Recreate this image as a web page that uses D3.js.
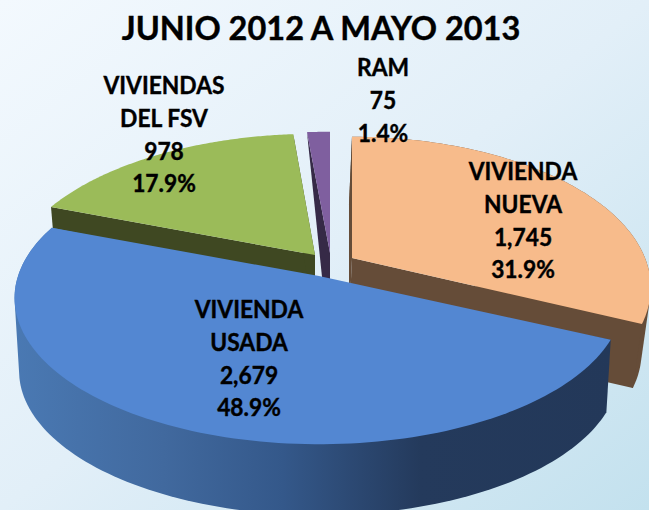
<!DOCTYPE html>
<html><head><meta charset="utf-8">
<script src="https://d3js.org/d3.v7.min.js"></script>
<style>html,body{margin:0;padding:0;background:#fff}svg{display:block}</style></head>
<body><svg id="c" width="649" height="510"></svg>
<script>
const titleText = "JUNIO 2012 A MAYO 2013";
const categories = ["VIVIENDA NUEVA","VIVIENDA USADA","VIVIENDAS DEL FSV","RAM"];
const values = [1745,2679,978,75];
const labelLines = [["VIVIENDA","NUEVA"],["VIVIENDA","USADA"],["VIVIENDAS","DEL FSV"],["RAM"]];
const topColors = ["#F7BB8B","#5387D2","#9BBB59","#7F5F9F"];
const wallColors = ["#654C38",null,"#3F4822","#362A47"];
const wallStops = [[0,"#4A79B3"],[0.25,"#41699E"],[0.45,"#34588A"],[0.68,"#243A5C"],[1,"#233859"]];

// layout of each exploded slice: apex, radii, perspective, extrusion towards vanishing point
const sliceLayout = [
 {cx:352,cy:258,rx:293,ry:145,a:.196,vx:209,vy:3368,k:.979},
 {cx:319,cy:276,rx:301,ry:143,a:.15, vx:319,vy:5173,k:.985},
 {cx:315,cy:255,rx:302,ry:145,a:.196,vx:315,vy:3368,k:.979},
 {cx:330,cy:253,rx:320,ry:145,a:.196,vx:330,vy:354,k:.348}
];
const labelLayout = [
 {x:523,y:180},{x:249,y:318},{x:164,y:94},{x:383,y:76}
];
const lineStep = 32.8;

const svg = d3.select("#c");
const defs = svg.append("defs");
const bg = defs.append("linearGradient").attr("id","bg").attr("x1",0).attr("y1",0).attr("x2",1).attr("y2",1);
bg.append("stop").attr("offset",0).attr("stop-color","#F3F9FE");
bg.append("stop").attr("offset",.5).attr("stop-color","#E2EFF8");
bg.append("stop").attr("offset",1).attr("stop-color","#C3E1EE");
const wg = defs.append("linearGradient").attr("id","wall").attr("gradientUnits","userSpaceOnUse")
  .attr("x1",14).attr("x2",612).attr("y1",0).attr("y2",0);
wallStops.forEach(s=>wg.append("stop").attr("offset",s[0]).attr("stop-color",s[1]));
svg.append("rect").attr("width",649).attr("height",510).attr("fill","url(#bg)");

const total = d3.sum(values);
const arcs = d3.pie().sort(null)(values);
const line = d3.line();

function rim(L,t){
  const u=Math.sin(t), v=-Math.cos(t), w=1-L.a*v;
  return [L.cx+L.rx*u/w, L.cy+L.ry*v/w];
}
const lower = (L,p)=>[L.vx+(p[0]-L.vx)*L.k, L.vy+(p[1]-L.vy)*L.k];
const arcPts = (L,a,b)=>d3.range(0,121).map(i=>rim(L,a+(b-a)*i/120));
const quad = (L,p,q)=>[p,q,lower(L,q),lower(L,p)];
const sweep = (L,pts)=>d3.polygonHull([...pts,...pts.map(p=>lower(L,p))]);

const layerW = svg.append("g"), layerT = svg.append("g"), layerB = svg.append("g"), layerL = svg.append("g");

arcs.forEach((d,i)=>{
  const L = sliceLayout[i];
  const pts = arcPts(L,d.startAngle,d.endAngle);
  const apex = [L.cx,L.cy];
  const face = line([apex,...pts])+"Z";
  if(i===1){
    layerB.append("path").attr("d",line(sweep(L,pts))+"Z").attr("fill","url(#wall)");
    layerB.append("path").attr("d",face).attr("fill",topColors[i]);
  } else {
    const c = wallColors[i];
    if(i===0) layerW.append("path").attr("d",line(sweep(L,pts))+"Z").attr("fill",c);
    layerW.append("path").attr("d",line(quad(L,pts[0],apex))+"Z").attr("fill",c);
    layerW.append("path").attr("d",line(quad(L,pts[pts.length-1],apex))+"Z").attr("fill",c);
    layerT.append("path").attr("d",face).attr("fill",topColors[i]);
  }
});

svg.append("text").attr("x",321).attr("y",40).attr("text-anchor","middle")
  .attr("font-family","Lato, 'Open Sans', sans-serif").attr("font-weight",700).attr("font-size",32.5)
  .attr("fill","#000").attr("stroke","#000").attr("stroke-width",.4).text(titleText);

const pctFmt = d3.format(".1%"), numFmt = d3.format(",");
arcs.forEach((d,i)=>{
  const P = labelLayout[i];
  const lines = [...labelLines[i], numFmt(values[i]), pctFmt(values[i]/total)];
  const t = layerL.append("text").attr("text-anchor","middle")
    .attr("transform",`translate(${P.x},0) scale(.95,1)`)
    .attr("font-family","Lato, 'Open Sans', sans-serif").attr("font-weight",700).attr("font-size",24)
    .attr("fill","#000").attr("stroke","#000").attr("stroke-width",.4);
  lines.forEach((s,j)=>t.append("tspan").attr("x",0).attr("y",P.y+j*lineStep).text(s));
});
</script></body></html>
